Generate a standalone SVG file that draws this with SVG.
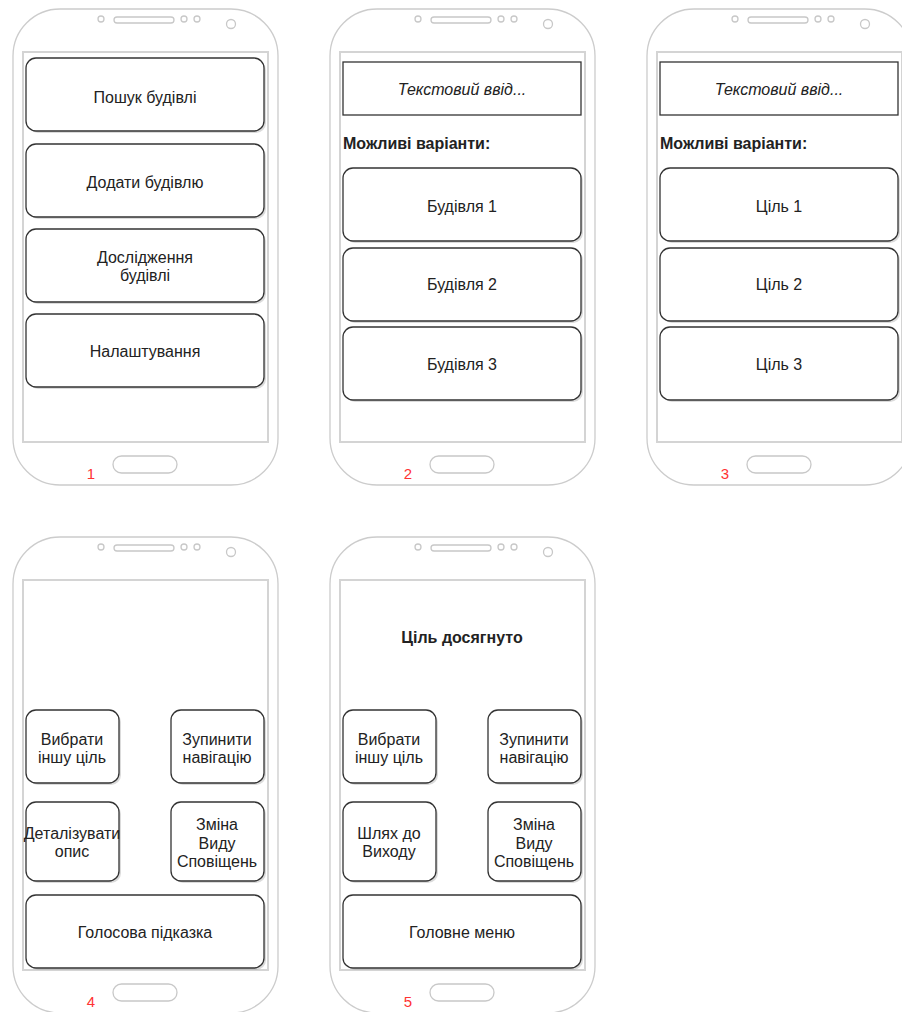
<svg xmlns="http://www.w3.org/2000/svg" xmlns:xlink="http://www.w3.org/1999/xlink" width="902" height="1012" viewBox="0 0 902 1012">
<style>
.body{fill:#fff;stroke:#cccccc;stroke-width:1.3}
.screen{fill:#fff;stroke:#d4d4d4;stroke-width:2}
.det{fill:none;stroke:#c8c8c8;stroke-width:1.3}
.btn{fill:#fff;stroke:#333;stroke-width:1.3}
.shadow{fill:#999;opacity:0.35}
.inp{fill:#fff;stroke:#333;stroke-width:1.3}
text{font-family:"Liberation Sans",Arial,sans-serif;font-size:16px;fill:#222;text-anchor:middle}
.it{font-style:italic}
.b{font-weight:bold}
.l{text-anchor:start}
.num{fill:#ff3333;font-size:15px}
</style>
<defs>
<g id="phone">
<rect class="body" x="13" y="9" width="265" height="476" rx="47" ry="47"/>
<rect class="screen" x="23" y="52" width="245" height="390"/>
<rect class="det" x="114" y="17" width="60" height="6" rx="3"/>
<circle class="det" cx="101" cy="19" r="3"/>
<circle class="det" cx="184" cy="19" r="3"/>
<circle class="det" cx="197" cy="19" r="3"/>
<circle class="det" cx="231" cy="24" r="4.5"/>
<rect class="det" x="113" y="456" width="64" height="17" rx="8.5"/>
</g>
<g id="btnW">
<rect class="shadow" x="2" y="2" width="238" height="73" rx="10"/>
<rect class="btn" x="0" y="0" width="238" height="73" rx="10"/>
</g>
<g id="btnS">
<rect class="shadow" x="2" y="2" width="93" height="73" rx="10"/>
<rect class="btn" x="0" y="0" width="93" height="73" rx="10"/>
</g>
<g id="btnS2">
<rect class="shadow" x="2" y="2" width="93" height="79" rx="10"/>
<rect class="btn" x="0" y="0" width="93" height="79" rx="10"/>
</g>
</defs>

<g id="phone1">
<use xlink:href="#phone"/>
<g id="p1-search"><use xlink:href="#btnW" x="26" y="58"/><text x="145" y="103">Пошук будівлі</text></g>
<g id="p1-add"><use xlink:href="#btnW" x="26" y="144"/><text x="145" y="188">Додати будівлю</text></g>
<g id="p1-explore"><use xlink:href="#btnW" x="26" y="229"/><text x="145" y="263">Дослідження</text><text x="145" y="281">будівлі</text></g>
<g id="p1-settings"><use xlink:href="#btnW" x="26" y="314"/><text x="145" y="357">Налаштування</text></g>
<text class="num" x="91" y="479">1</text>
</g>

<g id="phone2" transform="translate(317,0)">
<use xlink:href="#phone"/>
<g id="p2-input"><rect class="inp" x="26" y="62" width="238" height="53"/><text class="it" x="145" y="95">Текстовий ввід...</text></g>
<text class="b l" x="26" y="149">Можливі варіанти:</text>
<g id="p2-b1"><use xlink:href="#btnW" x="26" y="168"/><text x="145" y="212">Будівля 1</text></g>
<g id="p2-b2"><use xlink:href="#btnW" x="26" y="248"/><text x="145" y="290">Будівля 2</text></g>
<g id="p2-b3"><use xlink:href="#btnW" x="26" y="327"/><text x="145" y="370">Будівля 3</text></g>
<text class="num" x="91" y="479">2</text>
</g>

<g id="phone3" transform="translate(634,0)">
<use xlink:href="#phone"/>
<g id="p3-input"><rect class="inp" x="26" y="62" width="238" height="53"/><text class="it" x="145" y="95">Текстовий ввід...</text></g>
<text class="b l" x="26" y="149">Можливі варіанти:</text>
<g id="p3-b1"><use xlink:href="#btnW" x="26" y="168"/><text x="145" y="212">Ціль 1</text></g>
<g id="p3-b2"><use xlink:href="#btnW" x="26" y="248"/><text x="145" y="290">Ціль 2</text></g>
<g id="p3-b3"><use xlink:href="#btnW" x="26" y="327"/><text x="145" y="370">Ціль 3</text></g>
<text class="num" x="91" y="479">3</text>
</g>

<g id="phone4" transform="translate(0,528)">
<use xlink:href="#phone"/>
<g id="p4-other"><use xlink:href="#btnS" x="26" y="182"/><text x="72" y="217">Вибрати</text><text x="72" y="235">іншу ціль</text></g>
<g id="p4-stop"><use xlink:href="#btnS" x="171" y="182"/><text x="217" y="217">Зупинити</text><text x="217" y="235">навігацію</text></g>
<g id="p4-detail"><use xlink:href="#btnS2" x="26" y="274"/><text x="72" y="311">Деталізувати</text><text x="72" y="329">опис</text></g>
<g id="p4-notify"><use xlink:href="#btnS2" x="171" y="274"/><text x="217" y="302">Зміна</text><text x="217" y="321">Виду</text><text x="217" y="339">Сповіщень</text></g>
<g id="p4-voice"><use xlink:href="#btnW" x="26" y="367"/><text x="145" y="410">Голосова підказка</text></g>
<text class="num" x="91" y="479">4</text>
</g>

<g id="phone5" transform="translate(317,528)">
<use xlink:href="#phone"/>
<text class="b" x="145" y="115">Ціль досягнуто</text>
<g id="p5-other"><use xlink:href="#btnS" x="26" y="182"/><text x="72" y="217">Вибрати</text><text x="72" y="235">іншу ціль</text></g>
<g id="p5-stop"><use xlink:href="#btnS" x="171" y="182"/><text x="217" y="217">Зупинити</text><text x="217" y="235">навігацію</text></g>
<g id="p5-exit"><use xlink:href="#btnS2" x="26" y="274"/><text x="72" y="311">Шлях до</text><text x="72" y="329">Виходу</text></g>
<g id="p5-notify"><use xlink:href="#btnS2" x="171" y="274"/><text x="217" y="302">Зміна</text><text x="217" y="321">Виду</text><text x="217" y="339">Сповіщень</text></g>
<g id="p5-menu"><use xlink:href="#btnW" x="26" y="367"/><text x="145" y="410">Головне меню</text></g>
<text class="num" x="91" y="479">5</text>
</g>
<g id="connectors"/>
</svg>
